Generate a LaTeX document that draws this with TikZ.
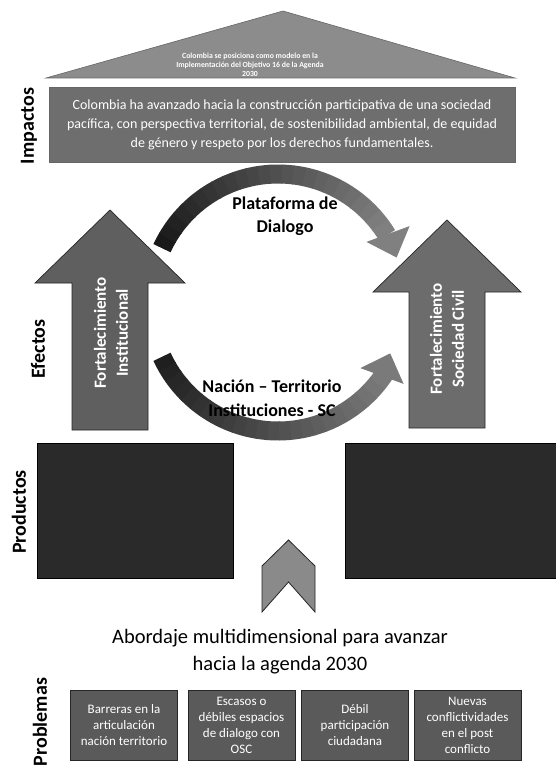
\documentclass[tikz,border=0pt]{standalone}
\usepackage{fontspec}
\setmainfont{Carlito}
\definecolor{trigray}{HTML}{8C8C8C}
\definecolor{impgray}{HTML}{6E6E6E}
\definecolor{larrowc}{HTML}{5F5F5F}
\definecolor{rarrowc}{HTML}{6C6C6C}
\definecolor{prodgray}{HTML}{2A2A2A}
\definecolor{probgray}{HTML}{5A5A5A}
\definecolor{chevgray}{HTML}{8A8A8A}
\begin{document}
\begin{tikzpicture}[x=1pt,y=1pt,
  sec/.style={rotate=90, font=\bfseries\fontsize{20}{22}\selectfont, inner sep=0},
  wt/.style={text=white, align=center},
  probbox/.style={draw=black!85, line width=0.8, fill=probgray, minimum width=107, minimum height=70, inner sep=0, wt, font=\fontsize{13}{16}\selectfont},
  prodbox/.style={draw=black, fill=prodgray, inner sep=0, anchor=north west},
  bigarrow/.style={draw=black!85, line width=0.7},
  midlabel/.style={align=center, font=\bfseries\fontsize{18}{23.5}\selectfont}]
\useasboundingbox (0,0) rectangle (555,-765);
\fill[white] (0,0) rectangle (555,-765);

% ---- Impactos ----
\filldraw[fill=trigray, draw=black!60, line width=0.6] (46,-78) -- (283,-11) -- (515,-78) -- cycle;
\node[wt, font=\bfseries\fontsize{7.8}{9}\selectfont, inner sep=0] (goal) at (250,-65)
  {Colombia se posiciona como modelo en la\\Implementación del Objetivo 16 de la Agenda\\2030};
\node[draw=black!60, fill=impgray, minimum width=466, minimum height=75, inner sep=0,
  wt, font=\fontsize{14}{19}\selectfont] (imp) at (282,-124.5)
  {Colombia ha avanzado hacia la construcción participativa de una sociedad\\
   pacífica, con perspectiva territorial, de sostenibilidad ambiental, de equidad\\
   de género y respeto por los derechos fundamentales.};
\node[sec] (limp) at (29,-126) {Impactos};

% ---- Efectos ----
\filldraw[bigarrow, fill=larrowc] (72,-430) -- (72,-283) -- (35,-283) -- (110,-210)
  -- (185,-283) -- (148,-283) -- (148,-430) -- cycle;
\filldraw[bigarrow, fill=rarrowc] (409,-428) -- (409,-292) -- (373,-292) -- (447,-220)
  -- (521,-292) -- (485,-292) -- (485,-428) -- cycle;
\node[wt, rotate=90, font=\bfseries\fontsize{17}{22}\selectfont] (fi) at (111,-333)
  {Fortalecimiento\\Institucional};
\node[wt, rotate=90, font=\bfseries\fontsize{17}{22}\selectfont] (fs) at (447,-339)
  {Fortalecimiento\\Sociedad Civil};

% top circular arrow
\foreach \i in {0,...,23}{
  \pgfmathsetmacro{\a}{155-\i*5.125}
  \pgfmathsetmacro{\b}{\a-5.5}
  \pgfmathsetmacro{\c}{90-\i*1.75}
  \draw[line width=19, color=black!\c] ({278+128*cos(\a)},{-302.5+128.5*sin(\a)})
    arc[start angle=\a, end angle=\b, x radius=128, y radius=128.5];
}
\fill[black!50] (409.6,-226.1) -- (396.6,-257.5) -- (366.4,-241.9) -- cycle;

% bottom circular arrow
\foreach \i in {0,...,23}{
  \pgfmathsetmacro{\a}{205+\i*5.0417}
  \pgfmathsetmacro{\b}{\a+5.4}
  \pgfmathsetmacro{\c}{88-\i*1.55}
  \draw[line width=19, color=black!\c] ({278+128*cos(\a)},{-302.5+128.5*sin(\a)})
    arc[start angle=\a, end angle=\b, x radius=128, y radius=128.5];
}
\fill[black!52] (403.6,-383.9) -- (390.2,-353.4) -- (360.4,-368.1) -- cycle;

\node[midlabel] (plat) at (285,-216) {Plataforma de\\Dialogo};
\node[midlabel] (nac) at (272,-398) {Nación – Territorio\\Instituciones - SC};
\node[sec] (lefe) at (38,-349) {Efectos};

% ---- Productos ----
\node[prodbox, minimum width=196, minimum height=135] (prodL) at (37,-443) {};
\node[prodbox, minimum width=212, minimum height=135] (prodR) at (345,-443) {};
\node[sec] (lprod) at (19,-512) {Productos};
\filldraw[fill=chevgray, draw=black!85, line width=0.8] (262,-566) -- (288.5,-540) -- (315,-566)
  -- (315,-612) -- (288.5,-582) -- (262,-612) -- cycle;

% ---- Problemas ----
\node[align=center, font=\fontsize{20.5}{27}\selectfont] (title) at (280,-652)
  {Abordaje multidimensional para avanzar\\hacia la agenda 2030};
\node[probbox] (p1) at (124,-725) {Barreras en la\\articulación\\nación territorio};
\node[probbox] (p2) at (241.5,-725) {Escasos o\\débiles espacios\\de dialogo con\\OSC};
\node[probbox] (p3) at (355,-725) {Débil\\participación\\ciudadana};
\node[probbox] (p4) at (467.5,-725) {Nuevas\\conflictividades\\en el post\\conflicto};
\node[sec] (lprob) at (40,-722) {Problemas};
\end{tikzpicture}
\end{document}
